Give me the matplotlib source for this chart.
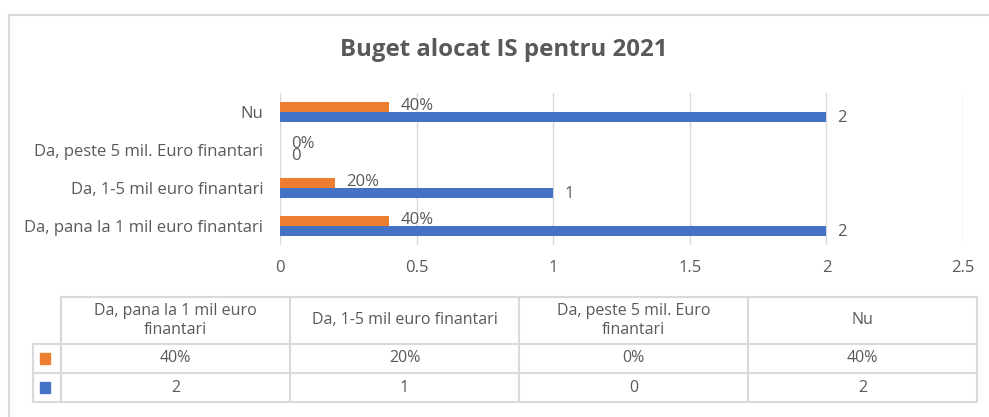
import textwrap
import matplotlib
matplotlib.use("Agg")
import matplotlib.pyplot as plt
from matplotlib.lines import Line2D
from matplotlib.patches import Rectangle

# ---- data ----
categories = ["Da, pana la 1 mil euro finantari",
              "Da, 1-5 mil euro finantari",
              "Da, peste 5 mil. Euro finantari",
              "Nu"]
percent_values = [0.40, 0.20, 0.0, 0.40]
count_values = [2, 1, 0, 2]
percent_labels = ["40%", "20%", "0%", "40%"]
count_labels = ["2", "1", "0", "2"]
x_ticks = [0, 0.5, 1, 1.5, 2, 2.5]
x_tick_labels = ["0", "0.5", "1", "1.5", "2", "2.5"]
title = "Buget alocat IS pentru 2021"

ORANGE = "#ED7D31"
BLUE = "#4472C4"
TXT = "#595959"
GRID = "#D9D9D9"
FONT = "Open Sans"

W, H = 989, 417
fig = plt.figure(figsize=(W / 100, H / 100), dpi=100)
plt.rcParams["font.family"] = [FONT, "DejaVu Sans"]


def fx(px):
    return px / W


def fy(py):
    return 1 - py / H


# outer chart border (top and left visible)
fig.add_artist(Line2D([fx(9), 1], [fy(15), fy(15)], color=GRID, lw=1.5))
fig.add_artist(Line2D([fx(9), fx(9)], [fy(15), 0], color=GRID, lw=1.5))

fig.text(fx(504), fy(50), title, ha="center", va="center",
         fontsize=17.3, fontweight="bold", color=TXT)

ax = fig.add_axes([fx(280), fy(245), fx(963) - fx(280), fy(93) - fy(245)])
y = list(range(len(categories)))
bh = 0.26
ax.barh([v + bh / 2 for v in y], percent_values, height=bh, color=ORANGE)
ax.barh([v - bh / 2 for v in y], count_values, height=bh, color=BLUE)
ax.set_xlim(0, 2.5)
ax.set_ylim(-0.5, len(categories) - 0.5)
ax.set_xticks(x_ticks)
ax.set_xticklabels(x_tick_labels)
ax.set_yticks(y)
ax.set_yticklabels(categories)
ax.tick_params(axis="both", length=0, colors=TXT, labelsize=12)
ax.tick_params(axis="x", pad=11)
ax.tick_params(axis="y", pad=12)
for s in ax.spines.values():
    s.set_visible(False)
ax.grid(axis="x", color=GRID, lw=1)
ax.set_axisbelow(True)

for i in y:
    ax.annotate(percent_labels[i], (percent_values[i], i + bh / 2),
                xytext=(8, 1), textcoords="offset points",
                va="center", ha="left", fontsize=12, color=TXT)
    ax.annotate(count_labels[i], (count_values[i], i - bh / 2),
                xytext=(8, -1), textcoords="offset points",
                va="center", ha="left", fontsize=12, color=TXT)

# ---- data table ----
xs = [33, 61, 290, 519, 748, 977]
ys = [297, 344, 373, 402]
lw = 1.5
fig.add_artist(Line2D([fx(xs[1]), fx(xs[-1])], [fy(ys[0]), fy(ys[0])], color=GRID, lw=lw))
for yy in ys[1:]:
    fig.add_artist(Line2D([fx(xs[0]), fx(xs[-1])], [fy(yy), fy(yy)], color=GRID, lw=lw))
fig.add_artist(Line2D([fx(xs[0]), fx(xs[0])], [fy(ys[1]), fy(ys[-1])], color=GRID, lw=lw))
for xx in xs[1:]:
    fig.add_artist(Line2D([fx(xx), fx(xx)], [fy(ys[0]), fy(ys[-1])], color=GRID, lw=lw))

for j, cat in enumerate(categories):
    cx = (xs[j + 1] + xs[j + 2]) / 2
    fig.text(fx(cx), fy((ys[0] + ys[1]) / 2), textwrap.fill(cat, 27),
             ha="center", va="center", fontsize=11.5, color=TXT,
             linespacing=1.3)
    fig.text(fx(cx), fy((ys[1] + ys[2]) / 2), percent_labels[j],
             ha="center", va="center", fontsize=11.5, color=TXT)
    fig.text(fx(cx), fy((ys[2] + ys[3]) / 2), count_labels[j],
             ha="center", va="center", fontsize=11.5, color=TXT)

for r, col in enumerate([ORANGE, BLUE]):
    cy = (ys[r + 1] + ys[r + 2]) / 2
    fig.add_artist(Rectangle((fx(40), fy(cy + 5)), fx(10), fy(cy - 5) - fy(cy + 5),
                             color=col, transform=fig.transFigure))

fig.savefig("out.png", dpi=100)
